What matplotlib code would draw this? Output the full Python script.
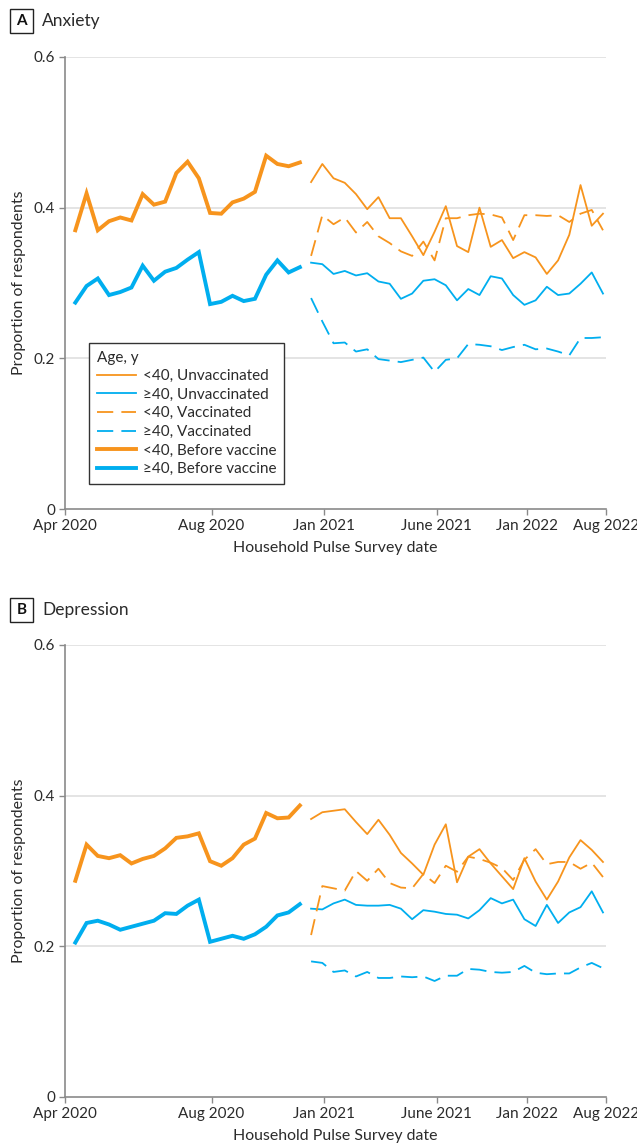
import numpy as np
import matplotlib
matplotlib.use("Agg")
import matplotlib.pyplot as plt
from matplotlib.patches import Rectangle

plt.rcParams['font.family'] = ['Lato', 'DejaVu Sans']

# ---- data ----
weeks_before = list(range(1, 22))
weeks_after = list(range(22, 49))

tick_labels = ["Apr 2020", "Aug 2020", "Jan 2021", "June 2021", "Jan 2022", "Aug 2022"]
tick_weeks = [0.08, 13.14, 23.17, 33.2, 41.2, 48.27]

# Panel A: Anxiety
anx_lt40_before = [0.370, 0.419, 0.370, 0.382, 0.387, 0.383, 0.418, 0.404, 0.408, 0.446, 0.461,
                   0.439, 0.393, 0.392, 0.407, 0.412, 0.421, 0.469, 0.458, 0.455, 0.460]
anx_ge40_before = [0.274, 0.296, 0.306, 0.284, 0.288, 0.294, 0.323, 0.303, 0.315, 0.320, 0.331,
                   0.341, 0.272, 0.275, 0.283, 0.276, 0.279, 0.311, 0.330, 0.314, 0.321]
anx_lt40_unvac = [0.434, 0.458, 0.439, 0.433, 0.418, 0.398, 0.414, 0.386, 0.386, 0.362, 0.337,
                  0.368, 0.402, 0.349, 0.341, 0.400, 0.348, 0.357, 0.333, 0.341, 0.334, 0.312,
                  0.330, 0.364, 0.430, 0.376, 0.392]
anx_lt40_vac = [0.336, 0.390, 0.378, 0.387, 0.367, 0.381, 0.362, 0.353, 0.342, 0.336, 0.355,
                0.330, 0.386, 0.386, 0.390, 0.392, 0.391, 0.387, 0.357, 0.390, 0.390, 0.389,
                0.390, 0.381, 0.392, 0.397, 0.370]
anx_ge40_unvac = [0.327, 0.325, 0.312, 0.316, 0.310, 0.313, 0.302, 0.299, 0.279, 0.286, 0.303,
                  0.305, 0.297, 0.277, 0.292, 0.284, 0.309, 0.306, 0.284, 0.271, 0.277, 0.295,
                  0.284, 0.286, 0.299, 0.314, 0.286]
anx_ge40_vac = [0.280, 0.249, 0.220, 0.221, 0.209, 0.212, 0.199, 0.197, 0.195, 0.198, 0.201,
                0.182, 0.198, 0.200, 0.219, 0.218, 0.216, 0.211, 0.215, 0.218, 0.212, 0.213,
                0.209, 0.204, 0.227, 0.227, 0.228]

# Panel B: Depression
dep_lt40_before = [0.287, 0.335, 0.320, 0.317, 0.321, 0.310, 0.316, 0.320, 0.330, 0.344, 0.346,
                   0.350, 0.313, 0.307, 0.317, 0.335, 0.343, 0.377, 0.370, 0.371, 0.387]
dep_ge40_before = [0.205, 0.231, 0.234, 0.229, 0.222, 0.226, 0.230, 0.234, 0.244, 0.243, 0.254,
                   0.262, 0.206, 0.210, 0.214, 0.210, 0.216, 0.226, 0.241, 0.245, 0.256]
dep_lt40_unvac = [0.369, 0.378, 0.380, 0.382, 0.365, 0.349, 0.368, 0.348, 0.324, 0.310, 0.295,
                  0.335, 0.362, 0.285, 0.319, 0.329, 0.310, 0.293, 0.276, 0.317, 0.286, 0.262,
                  0.286, 0.318, 0.341, 0.328, 0.312]
dep_lt40_vac = [0.215, 0.280, 0.277, 0.274, 0.300, 0.287, 0.303, 0.284, 0.278, 0.277, 0.296,
                0.284, 0.307, 0.299, 0.319, 0.316, 0.311, 0.304, 0.288, 0.315, 0.329, 0.309,
                0.312, 0.312, 0.303, 0.311, 0.292]
dep_ge40_unvac = [0.250, 0.249, 0.257, 0.262, 0.255, 0.254, 0.254, 0.255, 0.250, 0.236, 0.248,
                  0.246, 0.243, 0.242, 0.237, 0.248, 0.264, 0.257, 0.262, 0.236, 0.227, 0.255,
                  0.231, 0.245, 0.252, 0.273, 0.245]
dep_ge40_vac = [0.180, 0.178, 0.166, 0.168, 0.160, 0.166, 0.158, 0.158, 0.160, 0.159, 0.160,
                0.154, 0.161, 0.161, 0.170, 0.169, 0.166, 0.165, 0.166, 0.174, 0.165, 0.163,
                0.164, 0.164, 0.172, 0.178, 0.171]

ORANGE = '#F7941D'
BLUE = '#00AEEF'
AXCOL = '#8a8a8a'
TXT = '#2b2b2b'
DASH = (0, (9, 4.5))

W, H = 637, 1148
fig = plt.figure(figsize=(W / 100, H / 100), dpi=100)


def make_axes(top_px):
    left, right, bottom = 65, 606, top_px + 452
    ax = fig.add_axes([left / W, 1 - bottom / H, (right - left) / W, 452 / H])
    return ax


def draw_panel(ax, d, letter, title, title_y):
    lt40_b, ge40_b, lt40_u, lt40_v, ge40_u, ge40_v = d
    ax.plot(weeks_after, lt40_u, color=ORANGE, lw=1.3, label='<40, Unvaccinated', zorder=3)
    ax.plot(weeks_after, ge40_u, color=BLUE, lw=1.3, label='\u226540, Unvaccinated', zorder=3)
    ax.plot(weeks_after, lt40_v, color=ORANGE, lw=1.3, ls=DASH, label='<40, Vaccinated', zorder=3)
    ax.plot(weeks_after, ge40_v, color=BLUE, lw=1.3, ls=DASH, label='\u226540, Vaccinated', zorder=3)
    ax.plot(weeks_before, lt40_b, color=ORANGE, lw=2.8, label='<40, Before vaccine', zorder=3,
            solid_joinstyle='miter')
    ax.plot(weeks_before, ge40_b, color=BLUE, lw=2.8, label='\u226540, Before vaccine', zorder=3,
            solid_joinstyle='miter')

    ax.set_xlim(tick_weeks[0], tick_weeks[-1])
    ax.set_ylim(0, 0.6)
    ax.set_yticks([0, 0.2, 0.4, 0.6])
    ax.set_yticklabels(['0', '0.2', '0.4', '0.6'])
    ax.set_xticks(tick_weeks)
    ax.set_xticklabels(tick_labels)
    for y in [0.2, 0.4, 0.6]:
        ax.axhline(y, color='#dcdcdc', lw=1.1, zorder=1)
    for s in ['top', 'right']:
        ax.spines[s].set_visible(False)
    for s in ['left', 'bottom']:
        ax.spines[s].set_color(AXCOL)
        ax.spines[s].set_linewidth(1.2)
        ax.spines[s].set_zorder(4)
    ax.tick_params(axis='both', colors=AXCOL, length=4, width=1.0, labelsize=11,
                   labelcolor=TXT, pad=3)
    ax.set_ylabel('Proportion of respondents', fontsize=11.4, color=TXT, labelpad=6)
    ax.set_xlabel('Household Pulse Survey date', fontsize=11.4, color=TXT, labelpad=6)

    # panel label box
    fig.patches.append(Rectangle((10 / W, 1 - (title_y + 12) / H), 23 / W, 24 / H,
                                 transform=fig.transFigure, fill=False, ec='#222222', lw=1.0))
    fig.text(21.5 / W, 1 - title_y / H, letter, ha='center', va='center', fontsize=11,
             fontweight='bold', color='#111111')
    fig.text(42 / W, 1 - title_y / H, title, ha='left', va='center', fontsize=12.5, color=TXT)


axA = make_axes(57)
draw_panel(axA, (anx_lt40_before, anx_ge40_before, anx_lt40_unvac, anx_lt40_vac,
                 anx_ge40_unvac, anx_ge40_vac), 'A', 'Anxiety', 21)
axB = make_axes(645)
draw_panel(axB, (dep_lt40_before, dep_ge40_before, dep_lt40_unvac, dep_lt40_vac,
                 dep_ge40_unvac, dep_ge40_vac), 'B', 'Depression', 610)

leg = axA.legend(loc='upper left', bbox_to_anchor=((89 - 65) / 541, (509 - 343) / 452),
                 title='Age, y', fontsize=11, title_fontsize=11, frameon=True, fancybox=False,
                 edgecolor='#333333', framealpha=1, handlelength=2.6, handletextpad=0.45,
                 labelspacing=0.3, borderpad=0.5, borderaxespad=0, alignment='left')
leg.get_frame().set_linewidth(1.0)
for t in leg.get_texts():
    t.set_color(TXT)
leg.get_title().set_color(TXT)

fig.savefig('out.png', dpi=100)
